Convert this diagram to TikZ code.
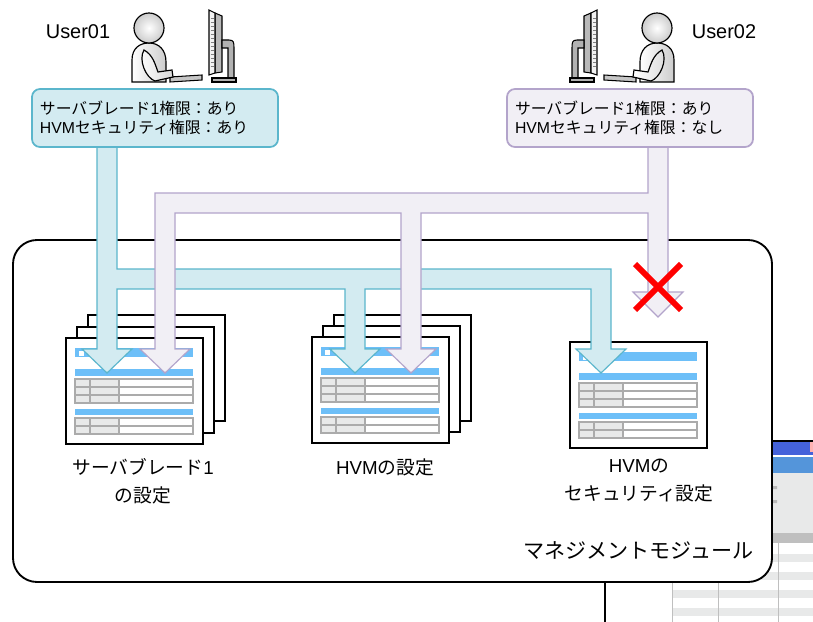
\documentclass[tikz,border=0pt]{standalone}
\usepackage{fontspec}
\setmainfont{Liberation Sans}
\newfontfamily\jp{Noto Sans CJK JP}

\definecolor{boxblue}{HTML}{D3EBF1}
\definecolor{edgeblue}{HTML}{5BB6CC}
\definecolor{boxpurple}{HTML}{F1EFF5}
\definecolor{edgepurple}{HTML}{B3A4CB}
\definecolor{docblue}{HTML}{6DBFF8}
\definecolor{cellgray}{HTML}{E8E9E9}
\definecolor{gridgray}{HTML}{ABABAB}
\definecolor{shotblue}{HTML}{4462DA}
\definecolor{shotsky}{HTML}{5495DA}

\begin{document}
\begin{tikzpicture}[x=0.03cm, y=-0.03cm,
  perm/.style = {rounded corners=0.24cm, line width=1.5pt, align=left,
    text width=6.9cm, inner xsep=0.24cm, minimum height=1.74cm,
    font=\fontsize{13.5}{16.5}\selectfont},
  lbl/.style = {align=center, font=\fontsize{16}{24}\selectfont},
  username/.style = {font=\fontsize{17}{20}\selectfont},
  bluearrow/.style = {fill=boxblue, draw=edgeblue, line width=1pt},
  purplearrow/.style = {fill=boxpurple, draw=edgepurple, line width=1pt},
  sheet/.pic = {
    \draw[line width=1.3pt, fill=white] (0,0) rectangle (137,106);
  },
  docsheet/.pic = {
    \draw[line width=1.3pt, fill=white] (0,0) rectangle (137,106);
    \fill[docblue] (9,10) rectangle (127,19);
    \fill[white] (13,13) rectangle (18,18);
    \fill[docblue] (9,31) rectangle (127,38);
    \fill[docblue] (9,71) rectangle (127,77);
    \foreach \t/\rows in {41/3, 80/2} {
      \fill[cellgray] (9,\t) rectangle (53,\t+8*\rows);
      \foreach \r in {1,...,\rows}
        \draw[gridgray, line width=1.1pt] (9,\t+8*\r-8) rectangle (127,\t+8*\r);
      \draw[gridgray, line width=1.1pt] (24,\t) -- (24,\t+8*\rows) (53,\t) -- (53,\t+8*\rows);
    }
  },
  userdesk/.pic = {
    % monitor from the side
    \draw[line width=0.9pt, fill=gray!55] (66,-15) -- (73,-12) -- (73,44) -- (66,45) -- cycle;
    \draw[line width=0.9pt, fill=gray!10] (60,-18) -- (66,-15) -- (66,45) -- (60,47) -- cycle;
    \foreach \t in {-10,-6,...,40} \draw[gray, line width=0.5pt] (61.5,\t) -- (64.5,\t);
    \draw[line width=0.9pt, fill=gray!60] (73,12) -- (80,12) .. controls (85,12) and (85,15) .. (85,20)
      -- (85,51) -- (79,51) -- (79,20) -- (73,20) -- cycle;
    \draw[line width=0.9pt, fill=gray!60] (63,50) rectangle (87,54);
    % keyboard
    \draw[line width=0.9pt, fill=gray!45] (21,49) -- (53,47) -- (53,52) -- (21,54) -- cycle;
    % person
    \draw[line width=1pt, left color=white, right color=gray!40] (-17,54) -- (-17,32)
      .. controls (-17,20) and (-9,15) .. (0,15) .. controls (10,15) and (17,22) .. (17,34) -- (17,54) -- cycle;
    \draw[line width=1pt, left color=white, right color=gray!30] (-5,22) .. controls (-11,32) and (-3,50) .. (6,53)
      -- (24,49) -- (23,42) -- (9,44) .. controls (6,36) and (4,27) .. (-5,22) -- cycle;
    \draw[line width=1pt, inner color=white, outer color=gray!40] (0,0) circle (15);
  }]
\useasboundingbox (0,0) rectangle (813,622);
\fill[white] (0,0) rectangle (813,622);

% screen capture behind the module
\fill[shotblue] (605,441) rectangle (813,455);
\fill[shotsky] (605,457) rectangle (813,473);
\fill[cellgray] (605,473) rectangle (813,533);
\fill[gray!50] (605,533) rectangle (813,543);
\foreach \y in {554,572,590,608} \fill[cellgray] (672,\y) rectangle (813,\y+8);
\draw[gray!50, line width=0.8pt] (672,543) -- (672,622) (718,543) -- (718,622) (778,543) -- (778,622);
\fill[gray!55] (773,486) rectangle (777,489) (773,500) rectangle (777,503);
\fill[red!30] (810,441) rectangle (813,452);
\draw[line width=1.3pt] (605,622) -- (605,441) -- (813,441);

% management module
\draw[line width=1.6pt, fill=white, rounded corners=0.72cm] (13,240) rectangle (772,582);
\node[lbl, anchor=east, font=\fontsize{18}{24}\selectfont] (mm) at (758,551) {\jp マネジメントモジュール};

% settings
\pic at (88,315) {sheet};
\pic at (77,327) {sheet};
\pic at (66,338) {docsheet};
\pic at (334,315) {sheet};
\pic at (323,326) {sheet};
\pic at (312,337) {docsheet};
\pic at (570,342) {docsheet};
\node[lbl] (set1) at (143,481) {{\jp サーバブレード}1\\{\jp の設定}};
\node[lbl] (set2) at (385,467) {HVM{\jp の設定}};
\node[lbl] (set3) at (639,481) {HVM{\jp の}\\{\jp セキュリティ設定}};

% access paths
\draw[bluearrow] (97,147) -- (97,349) -- (82,349) -- (107,373) -- (132,349) -- (117,349) -- (117,289)
  -- (345,289) -- (345,349) -- (330,349) -- (355,373) -- (380,349) -- (365,349) -- (365,289)
  -- (591,289) -- (591,349) -- (576,349) -- (601,373) -- (626,349) -- (611,349) -- (611,269)
  -- (117,269) -- (117,147) -- cycle;
\draw[purplearrow] (668,147) -- (668,292) -- (683,292) -- (658,317) -- (633,292) -- (648,292) -- (648,213)
  -- (421,213) -- (421,349) -- (436,349) -- (411,373) -- (386,349) -- (401,349) -- (401,213)
  -- (175,213) -- (175,349) -- (190,349) -- (165,373) -- (140,349) -- (155,349) -- (155,193)
  -- (648,193) -- (648,147) -- cycle;
\draw[red, line width=5pt] (635,264) -- (681,310) (681,264) -- (635,310);

% users
\node[perm, fill=boxblue, draw=edgeblue] (perm1) at (155,118)
  {{\jp サーバブレード}1{\jp 権限：あり}\\HVM{\jp セキュリティ権限：あり}};
\node[perm, fill=boxpurple, draw=edgepurple] (perm2) at (630,118)
  {{\jp サーバブレード}1{\jp 権限：あり}\\HVM{\jp セキュリティ権限：なし}};
\pic at (149,28) {userdesk};
\pic[xscale=-1] at (657,28) {userdesk};
\node[username] (user1) at (78,32) {User01};
\node[username] (user2) at (724,32) {User02};
\end{tikzpicture}
\end{document}
